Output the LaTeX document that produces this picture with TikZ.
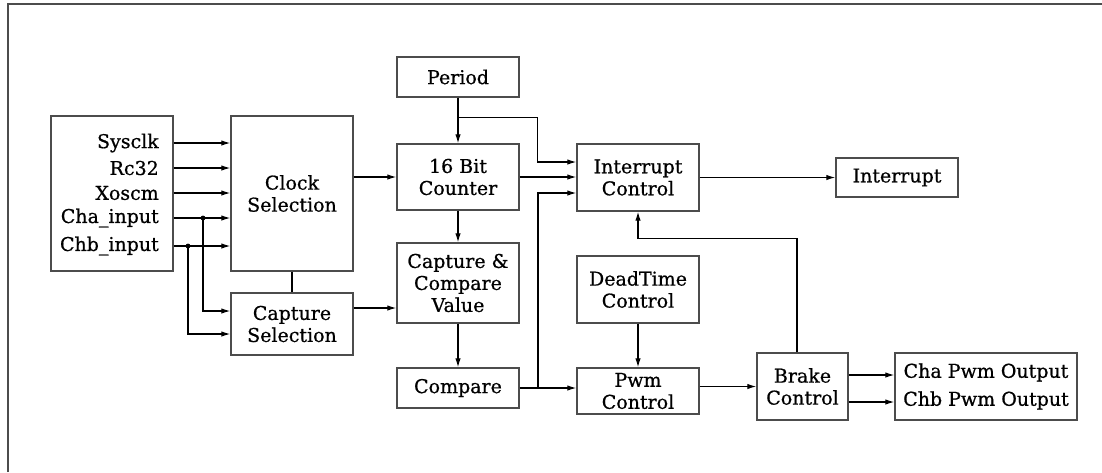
\documentclass[tikz,border=0pt]{standalone}
\usepackage{fontspec}
\setmainfont{DejaVu Serif}
\newfontfamily\blkfont{DejaVu Serif}[FakeBold=0.7]
\usetikzlibrary{arrows.meta}

\begin{document}
\begin{tikzpicture}[x=1pt,y=-1pt,
	blk/.style={draw=black!70,line width=1.4pt,inner sep=0pt,align=center,font=\blkfont\fontsize{19}{22}\selectfont},
	lbl/.style={inner sep=0pt,font=\blkfont\fontsize{19}{22}\selectfont},
	arr/.style={-{Latex[length=9pt,width=5.5pt]},line width=1.2pt},
	wire/.style={line width=1.2pt}]
				\useasboundingbox (0,0) rectangle (1102,472);
				\draw[black!70,line width=2pt] (8,472) -- (8,4) -- (1102,4);
				
				% clock sources
				\node[blk,minimum width=122,minimum height=155] (inp) at (112,193.5) {};
				\node[lbl,anchor=east] (sys) at (159,143) {Sysclk};
				\node[lbl,anchor=east] (rc) at (159,168) {Rc32};
				\node[lbl,anchor=east] (xo) at (159,193) {Xoscm};
				\node[lbl,anchor=east] (cha) at (159,218) {Cha\_input};
				\node[lbl,anchor=east] (chb) at (159,246) {Chb\_input};
				
				\node[blk,minimum width=122,minimum height=155] (clk) at (292,193.5) {Clock\\Selection};
				\node[blk,minimum width=122,minimum height=62] (capsel) at (292,324) {Capture\\Selection};
				
				% counter column
				\node[blk,minimum width=122,minimum height=40] (period) at (458,77) {Period};
				\node[blk,minimum width=122,minimum height=66] (cnt) at (458,177) {16 Bit\\Counter};
				\node[blk,minimum width=122,minimum height=80] (ccv) at (458,283) {Capture \&\\Compare\\Value};
				\node[blk,minimum width=122,minimum height=40] (cmp) at (458,388) {Compare};
				
				% control column
				\node[blk,minimum width=122,minimum height=67] (intc) at (638,177.5) {Interrupt\\Control};
				\node[blk,minimum width=122,minimum height=67] (dead) at (638,289.5) {DeadTime\\Control};
				\node[blk,minimum width=122,minimum height=46] (pwm) at (638,391) {Pwm\\Control};
				
				% outputs
				\node[blk,minimum width=122,minimum height=39] (irq) at (897,177.5) {Interrupt};
				\node[blk,minimum width=91,minimum height=67] (brk) at (802.5,386.5) {Brake\\Control};
				\node[blk,minimum width=182,minimum height=67] (outp) at (986,386.5) {Cha Pwm Output\\[6pt]Chb Pwm Output};
				
				\foreach \s in {sys,rc,xo,cha,chb}
					\draw[arr] (inp.east |- \s) -- (clk.west |- \s);
				
				\coordinate (ja) at (203,0 |- cha);
				\coordinate (jb) at (188,0 |- chb);
				\fill (ja) circle (2.4pt);
				\fill (jb) circle (2.4pt);
				\draw[arr] (ja) |- ([yshift=13pt]capsel.west);
				\draw[arr] (jb) |- ([yshift=-10pt]capsel.west);
				
				\draw[wire] (clk.south) -- (capsel.north);
				\draw[arr] (clk.east |- cnt) -- (cnt.west);
				\draw[arr] ([yshift=16pt]capsel.east) coordinate (cs) -- (cs -| ccv.west);
				
				\draw[arr] (period) -- (cnt);
				\draw[arr] ([yshift=-20pt]period.south) -| ([xshift=-39pt,yshift=15.5pt]intc.west) -- ([yshift=15.5pt]intc.west);
				\draw[arr] (cnt.east) -- (cnt.east -| intc.west);
				\draw[arr] (cnt) -- (ccv);
				\draw[arr] (ccv) -- (cmp);
				
				\draw[arr] (cmp.east) -- (cmp.east -| pwm.west);
				\draw[arr] (cmp.east -| 538,0) |- ([yshift=-15.5pt]intc.west);
				\draw[arr] (dead) -- (pwm);
				\draw[arr] (pwm.east |- brk.west) -- (brk.west);
				\draw[arr] ([xshift=-5.5pt]brk.north) |- ([yshift=-27pt]intc.south) -- (intc.south);
				
				\draw[arr] (intc) -- (irq);
				\foreach \dy in {11.5,-15.5}
					\draw[arr] ([yshift=\dy pt]brk.east) coordinate (o) -- (o -| outp.west);
			\end{tikzpicture}
\end{document}
